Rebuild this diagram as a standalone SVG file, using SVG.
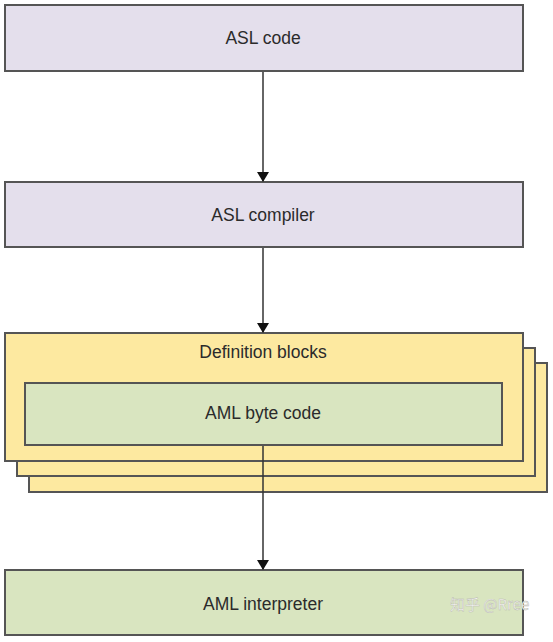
<svg xmlns="http://www.w3.org/2000/svg" width="553" height="642" viewBox="0 0 553 642">
<defs>
<style>
.box{stroke:#555;stroke-width:2}
.lav{fill:#e4dfec}
.yel{fill:#fde9a0}
.grn{fill:#d9e5c0}
.lbl{font-family:"Liberation Sans","Open Sans",sans-serif;font-size:17.5px;fill:#2b2b2b;text-anchor:middle}
.con{stroke:#333;stroke-width:1.5;fill:none}
</style>
<marker id="arr" markerWidth="10" markerHeight="12" refX="9" refY="6" orient="auto" markerUnits="userSpaceOnUse">
<path d="M0,0 L10,6 L0,12 Z" fill="#111"/>
</marker>
</defs>
<rect width="553" height="642" fill="#fff"/>
<g id="asl-code">
<rect class="box lav" x="5" y="5" width="518" height="66"/>
<text class="lbl" x="263" y="44">ASL code</text>
</g>
<g id="asl-compiler">
<rect class="box lav" x="5" y="182" width="518" height="65"/>
<text class="lbl" x="263" y="221">ASL compiler</text>
</g>
<g id="definition-blocks">
<rect class="box yel" x="29" y="363" width="518" height="129"/>
<rect class="box yel" x="17" y="348" width="518" height="128"/>
<rect class="box yel" x="5" y="333" width="518" height="128"/>
<text class="lbl" x="263" y="358">Definition blocks</text>
</g>
<g id="aml-byte-code">
<rect class="box grn" x="25" y="383" width="477" height="62"/>
<text class="lbl" x="263" y="419">AML byte code</text>
</g>
<g id="aml-interpreter">
<rect class="box grn" x="5" y="570" width="518" height="65"/>
<text class="lbl" x="263" y="610">AML interpreter</text>
</g>
<g id="connectors">
<line class="con" x1="263" y1="72" x2="263" y2="181" marker-end="url(#arr)"/>
<line class="con" x1="263" y1="248" x2="263" y2="332" marker-end="url(#arr)"/>
<line class="con" x1="263" y1="446" x2="263" y2="569" marker-end="url(#arr)"/>
</g>
<text x="450" y="610" font-family="'Noto Sans CJK SC',sans-serif" font-size="15" fill="#f4f4f0" stroke="#b8b8b0" stroke-width="0.4">知乎 @Rree</text>
</svg>
